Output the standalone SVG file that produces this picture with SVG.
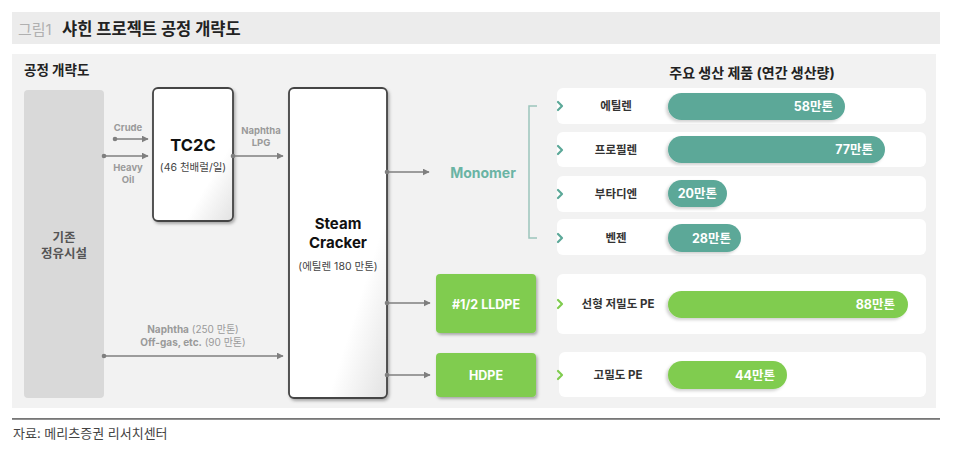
<svg xmlns="http://www.w3.org/2000/svg" width="958" height="465" viewBox="0 0 958 465">
<defs>
<style>
text{font-family:"Inter","Noto Sans CJK KR",sans-serif}
.b{font-weight:700}
.lbl{font-size:9.5px;font-weight:700;fill:#9a9a9a}
.conn{stroke:#7f7f7f;stroke-width:1.6;fill:none;marker-end:url(#ah)}
.dot{fill:#7f7f7f}
.row{fill:#ffffff}
.rl{font-size:11.5px;font-weight:700;fill:#333;text-anchor:middle}
.val{font-size:12.5px;font-weight:700;fill:#fff;text-anchor:end}
.teal{fill:#5ba898}
.green{fill:#80cc4f}
.chev{fill:none;stroke-width:2.2;stroke-linecap:round;stroke-linejoin:round}
</style>
<marker id="ah" viewBox="0 0 10 10" refX="9" refY="5" markerWidth="7" markerHeight="7" orient="auto" markerUnits="userSpaceOnUse">
<path d="M0,0 L10,5 L0,10 z" fill="#7f7f7f"/>
</marker>
<linearGradient id="gl" x1="0" y1="0" x2="1" y2="1">
<stop offset="0.7" stop-color="#ffffff"/>
<stop offset="1" stop-color="#e2e2e2"/>
</linearGradient>
<filter id="sh" x="-10%" y="-10%" width="130%" height="130%">
<feDropShadow dx="1.5" dy="2" stdDeviation="1.5" flood-color="#000" flood-opacity="0.3"/>
</filter>
<filter id="sh2" x="-10%" y="-20%" width="130%" height="150%">
<feDropShadow dx="-2" dy="2" stdDeviation="1.5" flood-color="#000" flood-opacity="0.18"/>
</filter>
</defs>

<!-- title -->
<rect x="12" y="12" width="928" height="32" fill="#ececec"/>
<text x="18" y="35" font-size="15" fill="#b0b0b0">그림1</text>
<text x="62" y="35" font-size="16.5" class="b" fill="#222">샤힌 프로젝트 공정 개략도</text>

<!-- panel -->
<rect x="12" y="54" width="924" height="354" fill="#f2f2f2"/>
<text x="24" y="75" font-size="13.5" class="b" fill="#222">공정 개략도</text>
<text x="752" y="78" font-size="14" class="b" fill="#222" text-anchor="middle">주요 생산 제품 (연간 생산량)</text>

<!-- nodes -->
<g id="refinery">
<rect x="24" y="90" width="80" height="308" rx="4" fill="#d9d9d9"/>
<text x="64" y="242" font-size="12.5" class="b" fill="#555" text-anchor="middle">기존</text>
<text x="64" y="258" font-size="12.5" class="b" fill="#555" text-anchor="middle">정유시설</text>
</g>

<g id="tc2c">
<rect x="153" y="88" width="80" height="133" rx="5" fill="url(#gl)" stroke="#444" stroke-width="1.8" filter="url(#sh)"/>
<text x="193" y="151" font-size="16.5" class="b" fill="#111" text-anchor="middle">TC2C</text>
<text x="193" y="171" font-size="10.5" fill="#444" text-anchor="middle">(46 천배럴/일)</text>
</g>

<g id="cracker">
<rect x="289" y="88" width="98" height="310" rx="5" fill="url(#gl)" stroke="#444" stroke-width="1.8" filter="url(#sh)"/>
<text x="338" y="229" font-size="15" class="b" fill="#111" text-anchor="middle">Steam</text>
<text x="338" y="248" font-size="15" class="b" fill="#111" text-anchor="middle">Cracker</text>
<text x="338" y="270" font-size="10.5" fill="#444" text-anchor="middle">(에틸렌 180 만톤)</text>
</g>

<g id="monomer">
<text x="483" y="178" font-size="14" class="b" fill="#6ab4a4" text-anchor="middle">Monomer</text>
<path d="M537,106 H529 V238 H537" fill="none" stroke="#9cc5bc" stroke-width="1.5"/>
</g>

<g id="lldpe">
<rect x="436" y="274" width="100" height="59" rx="4" fill="#80cc4f" filter="url(#sh)"/>
<text x="486" y="309" font-size="12.5" class="b" fill="#fff" text-anchor="middle">#1/2 LLDPE</text>
</g>

<g id="hdpe">
<rect x="436" y="353" width="100" height="44" rx="4" fill="#80cc4f" filter="url(#sh)"/>
<text x="486" y="380" font-size="12.5" class="b" fill="#fff" text-anchor="middle">HDPE</text>
</g>

<!-- product rows -->
<g id="ethylene">
<rect class="row" x="557" y="88" width="369" height="36" rx="6"/>
<path class="chev" stroke="#5ba898" d="M558,102 L562,106 L558,110"/>
<text class="rl" x="616" y="110">에틸렌</text>
<rect class="teal" x="668" y="93" width="177" height="27" rx="13.5" filter="url(#sh2)"/>
<text class="val" x="833" y="111">58만톤</text>
</g>
<g id="propylene">
<rect class="row" x="557" y="132" width="369" height="35" rx="6"/>
<path class="chev" stroke="#5ba898" d="M558,146 L562,150 L558,154"/>
<text class="rl" x="616" y="154">프로필렌</text>
<rect class="teal" x="668" y="136" width="217" height="27" rx="13.5" filter="url(#sh2)"/>
<text class="val" x="873" y="154">77만톤</text>
</g>
<g id="butadiene">
<rect class="row" x="557" y="176" width="369" height="36" rx="6"/>
<path class="chev" stroke="#5ba898" d="M558,190 L562,194 L558,198"/>
<text class="rl" x="616" y="198">부타디엔</text>
<rect class="teal" x="668" y="180" width="59" height="27" rx="13.5" filter="url(#sh2)"/>
<text class="val" x="717" y="198">20만톤</text>
</g>
<g id="benzene">
<rect class="row" x="557" y="219" width="369" height="36" rx="6"/>
<path class="chev" stroke="#5ba898" d="M558,234 L562,238 L558,242"/>
<text class="rl" x="616" y="242">벤젠</text>
<rect class="teal" x="668" y="224" width="73" height="28" rx="14" filter="url(#sh2)"/>
<text class="val" x="731" y="243">28만톤</text>
</g>
<g id="lldpe-row">
<rect class="row" x="557" y="274" width="369" height="60" rx="6"/>
<path class="chev" stroke="#80cc4f" d="M558,300 L562,304 L558,308"/>
<text class="rl" x="618" y="308">선형 저밀도 PE</text>
<rect class="green" x="668" y="291" width="240" height="27" rx="13.5" filter="url(#sh2)"/>
<text class="val" x="895" y="309">88만톤</text>
</g>
<g id="hdpe-row">
<rect class="row" x="559" y="352" width="367" height="45" rx="6"/>
<path class="chev" stroke="#80cc4f" d="M558,371 L562,375 L558,379"/>
<text class="rl" x="618" y="379">고밀도 PE</text>
<rect class="green" x="668" y="361" width="119" height="28" rx="14" filter="url(#sh2)"/>
<text class="val" x="775" y="380">44만톤</text>
</g>

<!-- connectors -->
<g id="connectors">
<circle class="dot" cx="115" cy="139" r="2.3"/>
<line class="conn" x1="115" y1="139" x2="148" y2="139"/>
<circle class="dot" cx="104" cy="156" r="2.3"/>
<line class="conn" x1="104" y1="156" x2="148" y2="156"/>
<text class="lbl" x="128" y="131" text-anchor="middle">Crude</text>
<text class="lbl" x="128" y="171" text-anchor="middle">Heavy</text>
<text class="lbl" x="128" y="183" text-anchor="middle">Oil</text>

<circle class="dot" cx="233" cy="156" r="2.3"/>
<line class="conn" x1="233" y1="156" x2="283" y2="156"/>
<text class="lbl" x="261" y="134" text-anchor="middle">Naphtha</text>
<text class="lbl" x="261" y="146" text-anchor="middle">LPG</text>

<circle class="dot" cx="104" cy="356" r="2.3"/>
<line class="conn" x1="104" y1="356" x2="283" y2="356"/>
<text x="193" y="333" font-size="10" fill="#9a9a9a" text-anchor="middle"><tspan font-weight="700">Naphtha</tspan> (250 만톤)</text>
<text x="193" y="346" font-size="10" fill="#9a9a9a" text-anchor="middle"><tspan font-weight="700">Off-gas, etc.</tspan> (90 만톤)</text>

<circle class="dot" cx="387" cy="172" r="2.3"/>
<line class="conn" x1="387" y1="172" x2="429" y2="172"/>
<circle class="dot" cx="387" cy="303" r="2.3"/>
<line class="conn" x1="387" y1="303" x2="430" y2="303"/>
<circle class="dot" cx="387" cy="375" r="2.3"/>
<line class="conn" x1="387" y1="375" x2="430" y2="375"/>
</g>

<!-- footer -->
<rect x="12" y="418" width="928" height="1.8" fill="#777"/>
<text x="13" y="438" font-size="13" fill="#444">자료: 메리츠증권 리서치센터</text>
</svg>
